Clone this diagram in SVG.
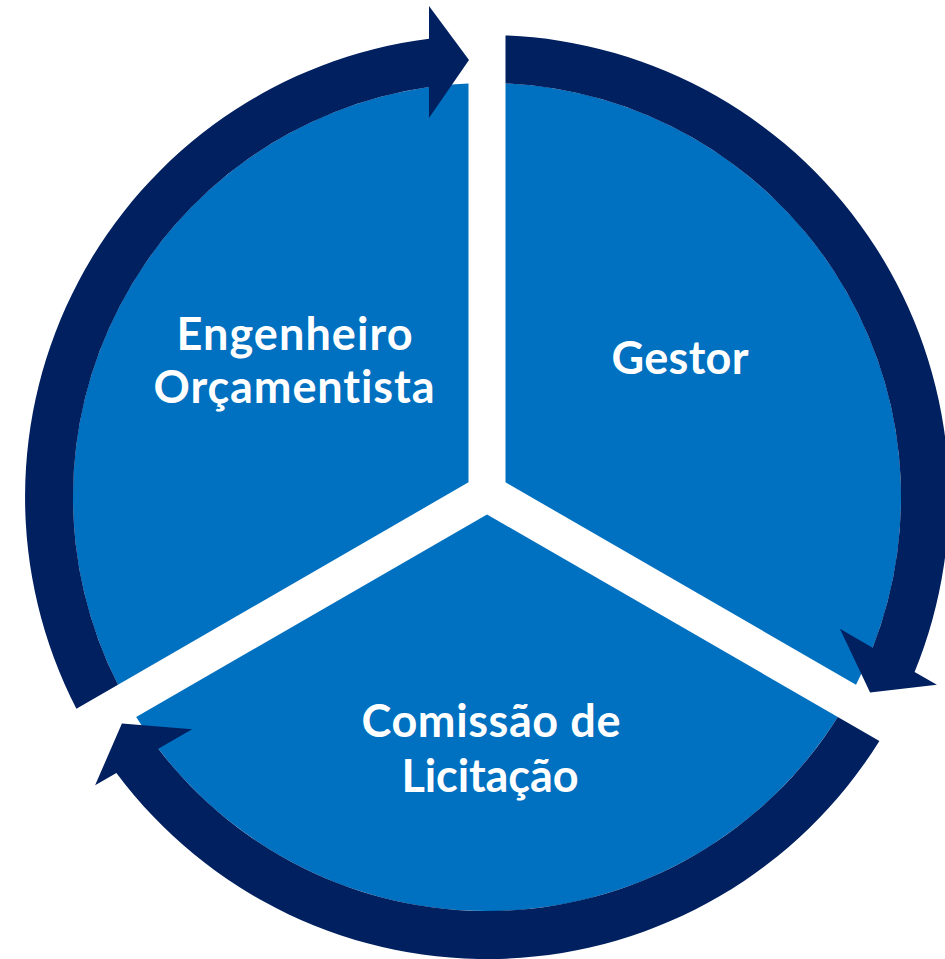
<svg xmlns="http://www.w3.org/2000/svg" width="945" height="959" viewBox="0 0 945 959">
<style>
.sector{fill:#0070C0}
.arrow{fill:#002060}
.label{font-family:Lato,"Open Sans","Liberation Sans",sans-serif;font-weight:700;font-size:45px;fill:#FFFFFF;text-anchor:middle;font-variant-ligatures:none}
</style>
<rect x="0" y="0" width="945" height="959" fill="#FFFFFF"/>
<g id="node-engenheiro">
<path class="sector" d="M468.5,482.3 L468.5,83.4 A414,414 0 0 0 118,684.7 Z"/>
<text class="label" x="294.5" y="350" textLength="236" lengthAdjust="spacing">Engenheiro</text>
<text class="label" x="294" y="403" textLength="281" lengthAdjust="spacing">Orçamentista</text>
</g>
<g id="node-gestor">
<path class="sector" d="M505.5,482.3 L505.5,83.4 A414,414 0 0 1 856,684.7 Z"/>
<text class="label" x="680" y="374" textLength="137" lengthAdjust="spacing">Gestor</text>
</g>
<g id="node-comissao">
<path class="sector" d="M487,514.4 L837.8,716.9 A414,414 0 0 1 136.2,716.9 Z"/>
<text class="label" x="491" y="737" textLength="259" lengthAdjust="spacing">Comissão de</text>
<text class="label" x="490" y="792" textLength="177" lengthAdjust="spacing">Licitação</text>
</g>
<g id="connectors">
<path class="arrow" d="M76.4,708.7 A462,462 0 0 1 429,38.7 L429,6 L469,60 L429,118 L429,87.1 A414,414 0 0 0 118,684.7 Z"/>
<path class="arrow" d="M505.5,35.4 A462,462 0 0 1 914.6,671.9 L936.9,684.8 L870.1,692.4 L839.9,628.8 L872.6,647.7 A414,414 0 0 0 505.5,83.4 Z"/>
<path class="arrow" d="M879.4,740.9 A462,462 0 0 1 116.4,772.9 L95.1,785.2 L121.9,723.6 L192.1,729.2 L158.3,748.7 A414,414 0 0 0 837.8,716.9 Z"/>
</g>
</svg>
